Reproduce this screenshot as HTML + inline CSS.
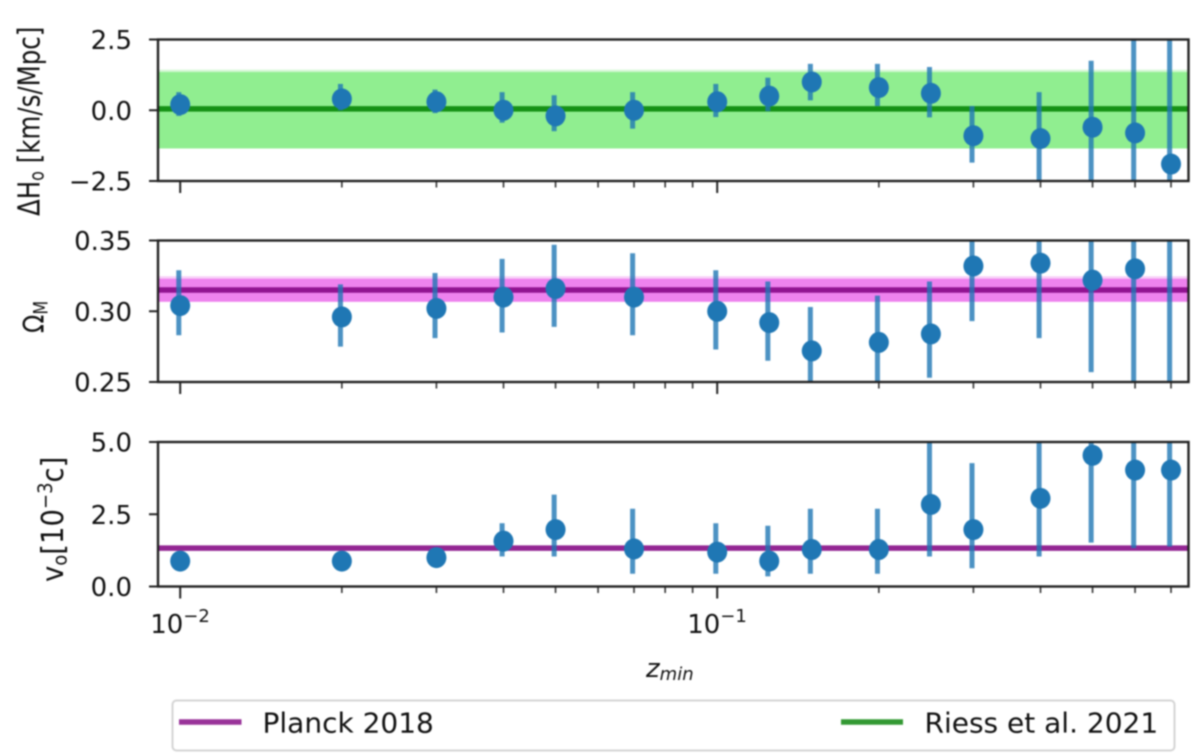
<!DOCTYPE html>
<html>
<head>
<meta charset="utf-8">
<title>Parameter fits versus minimum redshift</title>
<style>
html,body{margin:0;padding:0;background:#fff;}
#chart{display:block;filter:blur(0.9px);}
text{font-family:"DejaVu Sans","Liberation Sans",sans-serif;fill:#111;}
</style>
</head>
<body>
<svg id="chart" xmlns="http://www.w3.org/2000/svg" width="1200" height="755" viewBox="0 0 1200 755"></svg>
<script>
// ---- data ----
const zMin = [0.01,0.02,0.03,0.04,0.05,0.07,0.1,0.125,0.15,0.2,0.25,0.3,0.4,0.5,0.6,0.7];

const h0Values = [0.2,0.4,0.3,0,-0.2,0,0.3,0.5,1.0,0.8,0.6,-0.9,-1.0,-0.6,-0.8,-1.9];
const h0Upper  = [0.64,0.93,0.73,0.64,0.53,0.64,0.93,1.15,1.64,1.64,1.53,0.15,0.64,1.75,2.8,2.8];
const h0Lower  = [-0.2,0,-0.1,-0.44,-0.74,-0.65,-0.24,-0.03,0.35,0.15,-0.25,-1.85,-2.8,-2.8,-2.8,-2.48];

const omegaValues = [0.304,0.296,0.302,0.31,0.316,0.31,0.3,0.292,0.272,0.278,0.284,0.332,0.334,0.322,0.33,0.372];
const omegaUpper  = [0.329,0.319,0.327,0.337,0.347,0.341,0.329,0.321,0.303,0.311,0.321,0.36,0.36,0.36,0.36,0.39];
const omegaLower  = [0.283,0.275,0.281,0.285,0.289,0.283,0.273,0.265,0.245,0.245,0.253,0.293,0.281,0.257,0.245,0.245];

const v0Values = [0.88,0.88,1.0,1.57,1.97,1.3,1.19,0.88,1.28,1.28,2.84,1.97,3.05,4.54,4.03,4.03];
const v0Upper  = [1.1,1.1,1.3,2.19,3.18,2.69,2.19,2.1,2.69,2.69,5.3,4.27,5.3,5.3,5.3,5.3];
const v0Lower  = [0.6,0.6,0.7,1.04,1.04,0.44,0.44,0.35,0.44,0.44,1.04,0.63,1.04,1.52,1.33,1.38];

const h0Reference = [0.05];
const h0BandOuter = [-1.35,1.43];
const h0BandInner = [-1.35,1.35];
const omegaReference = [0.315];
const omegaBandOuter = [0.3067,0.3248];
const omegaBandInner = [0.3067,0.323];
const v0Reference = [1.33];

const h0TickValues = [2.5,0,-2.5];
const h0TickLabels = ["2.5","0.0","\u22122.5"];
const omegaTickValues = [0.35,0.30,0.25];
const omegaTickLabels = ["0.35","0.30","0.25"];
const v0TickValues = [5,2.5,0];
const v0TickLabels = ["5.0","2.5","0.0"];

const xMajorTicks = [0.01,0.1];
const xMajorExponents = ["\u22122","\u22121"];
const xMinorTicks = [0.02,0.03,0.04,0.05,0.06,0.07,0.08,0.09,0.2,0.3,0.4,0.5,0.6,0.7];

// ---- axis functions ----
const NS = "http://www.w3.org/2000/svg";
const svg = document.getElementById("chart");
const LEFT = 158, RIGHT = 1188.5;
function xScale(z){ return 180.2 + (Math.log10(z) + 2) * 537; }
function yScaleFor(domain, top, bottom){
  return function(v){ return top + (domain[1] - v) / (domain[1] - domain[0]) * (bottom - top); };
}
function make(tag, attrs, parent){
  const e = document.createElementNS(NS, tag);
  for (const k in attrs) e.setAttribute(k, attrs[k]);
  (parent || svg).appendChild(e);
  return e;
}

const defs = make("defs", {});

function drawPanel(p){
  const y = yScaleFor(p.domain, p.top, p.bottom);
  const g = make("g", {});
  
  

  const clip = make("clipPath", {id: "clip-" + p.name}, defs);
  make("rect", {x: LEFT, y: p.top, width: RIGHT - LEFT, height: p.bottom - p.top}, clip);
  const plot = make("g", {"clip-path": "url(#clip-" + p.name + ")"}, g);

  if (p.bandOuter) {
    const r1 = make("rect", {x: LEFT, y: y(p.bandOuter[1]), width: RIGHT - LEFT, height: y(p.bandOuter[0]) - y(p.bandOuter[1]), fill: p.bandLight}, plot);
    
    
    const r2 = make("rect", {x: LEFT, y: y(p.bandInner[1]), width: RIGHT - LEFT, height: y(p.bandInner[0]) - y(p.bandInner[1]), fill: p.bandMain}, plot);
    
    
  }

  const ref = make("line", {x1: LEFT, x2: RIGHT, y1: y(p.reference[0]), y2: y(p.reference[0]), stroke: p.refColor, "stroke-width": 5.5, "stroke-opacity": 0.85}, plot);
  
  

  zMin.forEach(function(z, i){
    const bar = make("line", {x1: xScale(z) - 1.4, x2: xScale(z) - 1.4, y1: y(p.upper[i]), y2: y(p.lower[i]), stroke: "#1f77b4", "stroke-width": 5, "stroke-opacity": 0.8}, plot);
    
    
  });
  zMin.forEach(function(z, i){
    const pt = make("ellipse", {cx: xScale(z), cy: y(p.values[i]), rx: 10, ry: 10.5, fill: "#1f77b4"}, plot);
    
    
  });

  // y ticks
  p.tickValues.forEach(function(v, i){
    const t = make("line", {x1: LEFT - 9, x2: LEFT, y1: y(v), y2: y(v), stroke: "#222", "stroke-width": 2}, g);
    
    
    const l = make("text", {x: 132, y: y(v) + 9.5, "text-anchor": "end", "font-size": 26}, g);
    l.textContent = p.tickLabels[i];
    
    
  });

  // x ticks
  xMajorTicks.forEach(function(z){
    const t = make("line", {x1: xScale(z), x2: xScale(z), y1: p.bottom, y2: p.bottom + 12, stroke: "#222", "stroke-width": 2}, g);
    
    
  });
  xMinorTicks.forEach(function(z){
    const t = make("line", {x1: xScale(z), x2: xScale(z), y1: p.bottom, y2: p.bottom + 6.5, stroke: "#333", "stroke-width": 1.6}, g);
    
    
  });

  const frame = make("rect", {x: LEFT, y: p.top, width: RIGHT - LEFT, height: p.bottom - p.top, fill: "none", stroke: "#222", "stroke-width": 2.4}, g);
  
  
}

drawPanel({name:"h0", domain:[-2.5,2.5], top:39.5, bottom:181, values:h0Values, upper:h0Upper, lower:h0Lower,
  reference:h0Reference, refColor:"#008000", bandOuter:h0BandOuter, bandInner:h0BandInner, bandLight:"#d3f7d3", bandMain:"#90ee90",
  tickValues:h0TickValues, tickLabels:h0TickLabels});
drawPanel({name:"omega", domain:[0.25,0.35], top:240.5, bottom:382, values:omegaValues, upper:omegaUpper, lower:omegaLower,
  reference:omegaReference, refColor:"#800080", bandOuter:omegaBandOuter, bandInner:omegaBandInner, bandLight:"#f8d0f8", bandMain:"#ee82ee",
  tickValues:omegaTickValues, tickLabels:omegaTickLabels});
drawPanel({name:"v0", domain:[0,5], top:442, bottom:586.5, values:v0Values, upper:v0Upper, lower:v0Lower,
  reference:v0Reference, refColor:"#800080",
  tickValues:v0TickValues, tickLabels:v0TickLabels});

// x tick labels (bottom panel only)
xMajorTicks.forEach(function(z, i){
  const l = make("text", {x: xScale(z) - 30, y: 633, "font-size": 26});
  
  
  const a = make("tspan", {}, l); a.textContent = "10";
  const b = make("tspan", {dy: -11, "font-size": 18}, l); b.textContent = xMajorExponents[i];
});
</script>

<script>
// static labels and legend
(function(){
  const s = document.getElementById("chart");
  s.insertAdjacentHTML("beforeend", `
  <text transform="translate(39.5,216) rotate(-90) scale(1,1.25)" font-size="24.5">&#916;H<tspan font-size="16" dy="3">o</tspan><tspan dy="-3"> [km/s/Mpc]</tspan></text>
  <text transform="translate(44,333) rotate(-90) scale(1,1.2)" font-size="24">&#937;<tspan font-size="16" dy="3">M</tspan></text>
  <text transform="translate(63,582) rotate(-90) scale(1,1.1)" font-size="27.5"><tspan>v</tspan><tspan font-size="18" dy="3">o</tspan><tspan dy="-3">[10</tspan><tspan font-size="18" dy="-10">&#8722;3</tspan><tspan dy="10">c]</tspan></text>
  <text x="646" y="677" font-size="26" font-style="italic">z<tspan font-size="18" dy="3">min</tspan></text>
  <g>
    <rect x="172.5" y="700.5" width="1002" height="50" rx="4" fill="#fff" stroke="#d4d4d4" stroke-width="2"/>
    <line x1="179" x2="241.5" y1="722" y2="722" stroke="#800080" stroke-opacity="0.8" stroke-width="5.5"/>
    <text x="262.5" y="732.5" font-size="28">Planck 2018</text>
    <line x1="841" x2="903" y1="722" y2="722" stroke="#008000" stroke-opacity="0.8" stroke-width="5.5"/>
    <text x="924.5" y="732.5" font-size="28">Riess et al. 2021</text>
  </g>`);
})();
</script>
</body>
</html>
